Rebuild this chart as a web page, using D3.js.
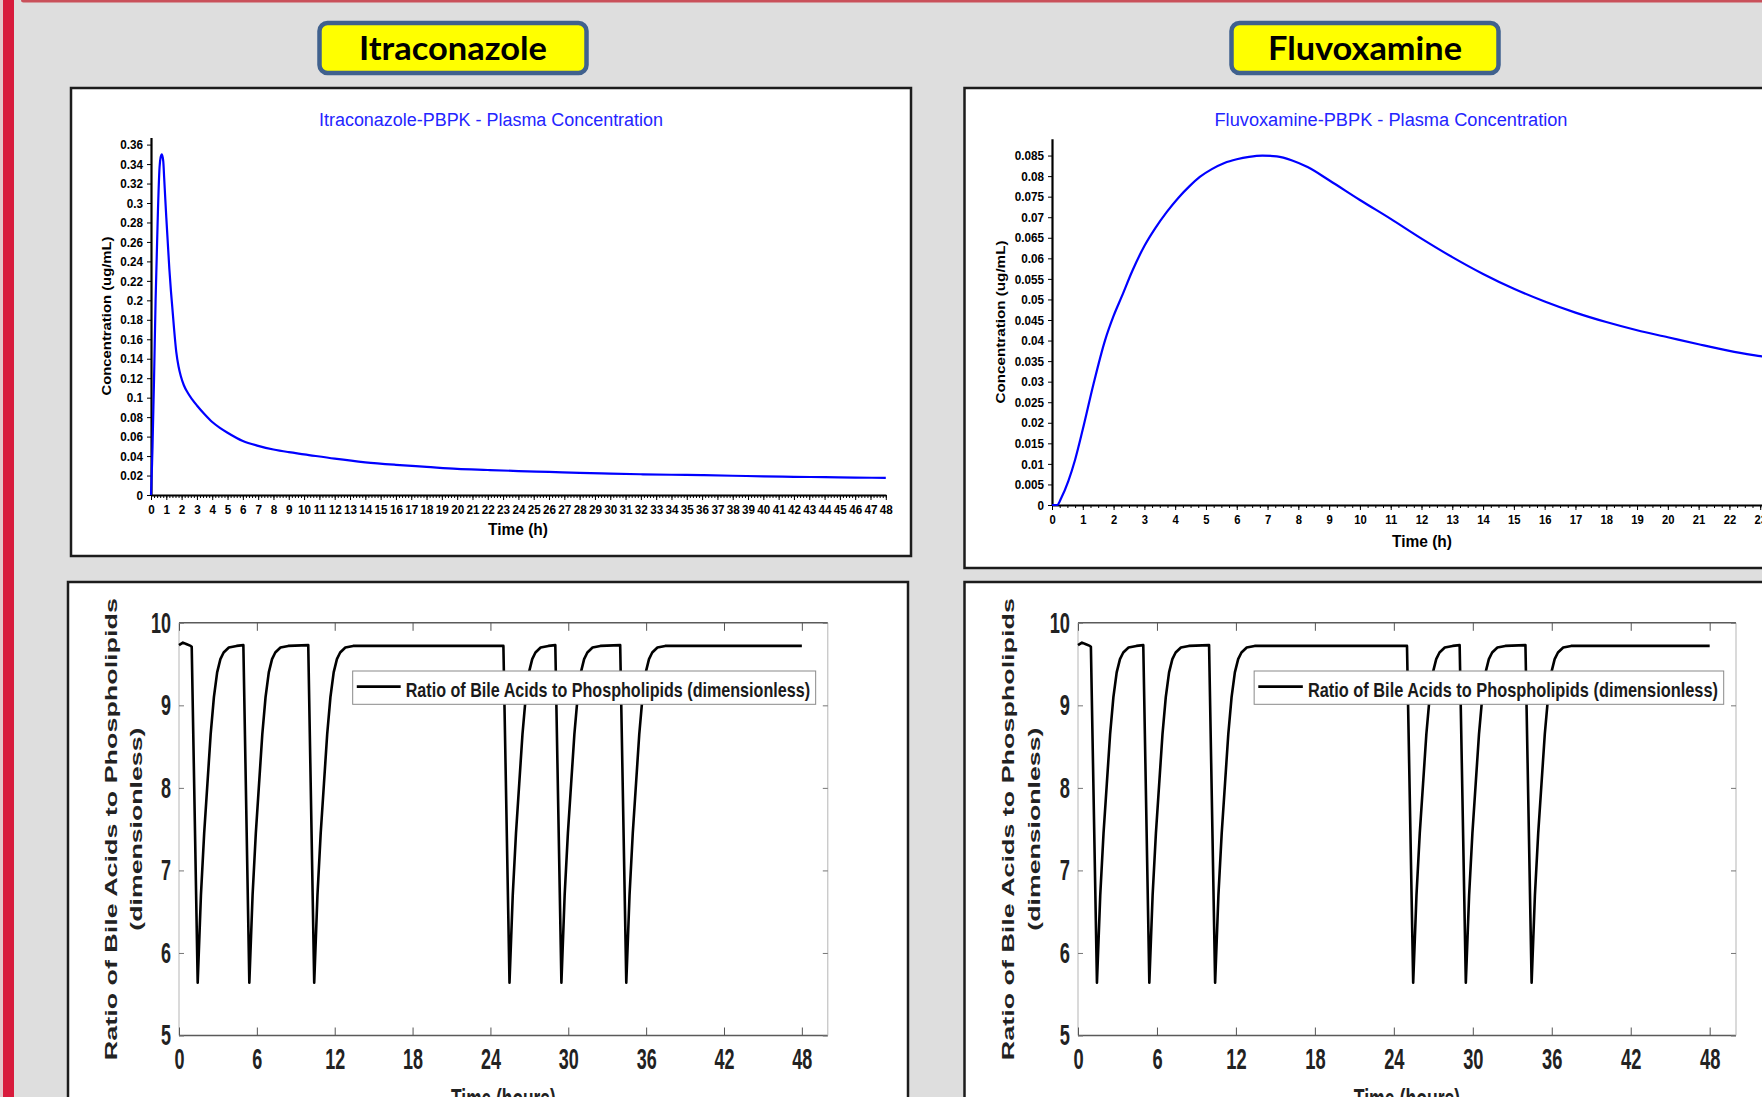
<!DOCTYPE html>
<html><head><meta charset="utf-8">
<script src="https://cdn.jsdelivr.net/npm/d3@7"></script>
<style>html,body{margin:0;padding:0;background:#dedede;overflow:hidden}svg{display:block}</style>
</head><body>
<svg id="c" width="1762" height="1097"></svg>
<script>
// ---------------- DATA ----------------
const panelLabels = ["Itraconazole", "Fluvoxamine"];
const concTitles = ["Itraconazole-PBPK - Plasma Concentration", "Fluvoxamine-PBPK - Plasma Concentration"];
const concXLabel = "Time (h)";
const concYLabel = "Concentration (ug/mL)";

const itraTime = [0,0.07,0.1,0.2,0.3,0.37,0.45,0.56,0.63,0.71,0.8,0.86,0.93,1.0,1.09,1.2,1.3,1.39,1.5,1.65,1.8,1.95,2.14,2.4,2.7,3,3.5,4,4.5,5,6,7,8,9,10,12,14,16,18,20,22,24,26,28,30,32,34,36,38,40,42,44,46,48];
const itraConc = [0,0.033,0.05,0.12,0.2,0.242,0.29,0.337,0.347,0.35,0.343,0.326,0.305,0.285,0.261,0.232,0.21,0.193,0.172,0.147,0.132,0.122,0.113,0.105,0.098,0.092,0.083,0.075,0.069,0.064,0.0555,0.0505,0.0467,0.044,0.0418,0.0373,0.0336,0.031,0.0289,0.0268,0.0257,0.0246,0.0237,0.0228,0.022,0.0213,0.0208,0.0204,0.0198,0.0192,0.0187,0.0183,0.0179,0.0176];
const itraXTicks = [0,1,2,3,4,5,6,7,8,9,10,11,12,13,14,15,16,17,18,19,20,21,22,23,24,25,26,27,28,29,30,31,32,33,34,35,36,37,38,39,40,41,42,43,44,45,46,47,48];
const itraYTicks = [0,0.02,0.04,0.06,0.08,0.1,0.12,0.14,0.16,0.18,0.2,0.22,0.24,0.26,0.28,0.3,0.32,0.34,0.36];

const fluvTime = [0,0.17,0.3,0.53,0.75,1.0,1.35,1.72,2.0,2.27,2.6,3.0,3.35,3.73,4.1,4.46,4.8,5.19,5.6,6.0,6.4,6.83,7.3,7.8,8.3,9,10,11,12,13,14,15,16,17,18,19,20,21,22,23,24];
const fluvConc = [0,0,0.0017,0.0058,0.011,0.0184,0.0295,0.040,0.046,0.0508,0.0568,0.063,0.0673,0.0713,0.0747,0.0775,0.0798,0.0817,0.0832,0.0841,0.0847,0.085,0.0848,0.0838,0.0822,0.079,0.0742,0.0696,0.0648,0.0603,0.0562,0.0526,0.0495,0.0468,0.0445,0.0425,0.0408,0.0391,0.0375,0.0362,0.035];
const fluvXTicks = [0,1,2,3,4,5,6,7,8,9,10,11,12,13,14,15,16,17,18,19,20,21,22,23,24];
const fluvYTicks = [0,0.005,0.01,0.015,0.02,0.025,0.03,0.035,0.04,0.045,0.05,0.055,0.06,0.065,0.07,0.075,0.08,0.085];

const ratioLegend = "Ratio of Bile Acids to Phospholipids (dimensionless)";
const ratioYLabel1 = "Ratio of Bile Acids to Phospholipids";
const ratioYLabel2 = "(dimensionless)";
const ratioXLabel = "Time (hours)";
const ratioXTicks = [0,6,12,18,24,30,36,42,48];
const ratioYTicks = [5,6,7,8,9,10];
const ratioTime = [0,0.3,0.6,0.9,0.98,
  1.44,1.69,1.94,2.19,2.44,2.69,2.94,3.19,3.44,3.84,4.44,4.96,
  5.42,5.67,5.92,6.17,6.42,6.67,6.92,7.17,7.42,7.82,8.42,9.96,
  10.42,10.67,10.92,11.17,11.42,11.67,11.92,12.17,12.42,12.82,13.42,25.0,
  25.47,25.72,25.97,26.22,26.47,26.72,26.97,27.22,27.47,27.87,28.47,29.0,
  29.47,29.72,29.97,30.22,30.47,30.72,30.97,31.22,31.47,31.87,32.47,34.0,
  34.47,34.72,34.97,35.22,35.47,35.72,35.97,36.22,36.47,36.87,37.47,48];
const ratioValue = [9.73,9.76,9.74,9.72,9.71,
  5.64,6.7,7.45,8.05,8.65,9.1,9.4,9.56,9.64,9.70,9.72,9.73,
  5.64,6.7,7.45,8.05,8.65,9.1,9.4,9.56,9.64,9.70,9.72,9.73,
  5.64,6.7,7.45,8.05,8.65,9.1,9.4,9.56,9.64,9.70,9.72,9.72,
  5.64,6.7,7.45,8.05,8.65,9.1,9.4,9.56,9.64,9.70,9.72,9.73,
  5.64,6.7,7.45,8.05,8.65,9.1,9.4,9.56,9.64,9.70,9.72,9.73,
  5.64,6.7,7.45,8.05,8.65,9.1,9.4,9.56,9.64,9.70,9.72,9.72];

// ---------------- HELPERS ----------------
const FONT = "'Liberation Sans', Arial, sans-serif";
const svg = d3.select("#c");
const zip = (a, b) => a.map((v, i) => [v, b[i]]);
const fmt = d => String(+(+d).toFixed(4));

function squeeze(sel, sx) {
  sel.each(function () {
    const t = d3.select(this);
    const x = +(t.attr("x") || 0);
    t.attr("x", x / sx).attr("transform", `scale(${sx},1)`);
  });
}
function styleAxis(g, size, weight) {
  g.attr("font-family", FONT).attr("font-size", size).attr("font-weight", weight);
  g.selectAll("text").attr("fill", "#000");
}

// ---------------- BACKGROUND ----------------
svg.append("rect").attr("width", 1762).attr("height", 1097).attr("fill", "#dedede");
svg.append("rect").attr("x", 0).attr("y", 0).attr("width", 3).attr("height", 1097).attr("fill", "#e4c6ca");
svg.append("rect").attr("x", 3).attr("y", 0).attr("width", 11).attr("height", 1097).attr("fill", "#d81b3c");
svg.append("rect").attr("x", 21).attr("y", -3).attr("width", 1760).attr("height", 5.5).attr("rx", 2.5).attr("fill", "#c9505a");

// panel labels
const labelBoxes = [{cx: 453, w: 267}, {cx: 1365, w: 267}];
const labelTextW = [188, 194];
panelLabels.forEach((lab, i) => {
  const b = labelBoxes[i];
  svg.append("rect").attr("x", b.cx - b.w / 2).attr("y", 23).attr("width", b.w).attr("height", 50)
    .attr("rx", 8).attr("fill", "#ffff00").attr("stroke", "#40618e").attr("stroke-width", 4.5);
  svg.append("text").attr("x", b.cx).attr("y", 60).attr("text-anchor", "middle")
    .attr("font-family", "Lato, 'Open Sans', sans-serif").attr("font-weight", 700).attr("font-size", 33)
    .attr("textLength", labelTextW[i]).attr("lengthAdjust", "spacingAndGlyphs")
    .attr("fill", "#000").text(lab);
});

// ---------------- CONCENTRATION PANELS ----------------
function concPanel(c) {
  const g = svg.append("g");
  g.append("rect").attr("x", c.frame[0]).attr("y", c.frame[1]).attr("width", c.frame[2]).attr("height", c.frame[3])
    .attr("fill", "#fff").attr("stroke", "#1c1c1c").attr("stroke-width", 2.5);
  const x = d3.scaleLinear().domain(c.xDomain).range(c.xRange);
  const y = d3.scaleLinear().domain(c.yDomain).range(c.yRange);

  g.append("text").attr("x", c.titleX).attr("y", 126).attr("text-anchor", "middle")
    .attr("font-family", FONT).attr("font-size", 18).attr("fill", "#2424ff")
    .attr("textLength", c.titleW).attr("lengthAdjust", "spacingAndGlyphs").text(c.title);

  // minor x ticks
  const gxm = g.append("g").attr("transform", `translate(0,${y(0)})`)
    .call(d3.axisBottom(x).tickValues(d3.range(c.xDomain[0], c.xDomain[1] + 1e-9, c.minorStep)).tickSize(3).tickFormat(""));
  gxm.select(".domain").remove();
  gxm.selectAll("line").attr("stroke", "#000").attr("stroke-width", 1);
  // major x ticks + labels
  const gx = g.append("g").attr("transform", `translate(0,${y(0)})`)
    .call(d3.axisBottom(x).tickValues(c.xTicks).tickSizeInner(5).tickSizeOuter(0).tickPadding(5).tickFormat(fmt));
  styleAxis(gx, c.xTickSize, 700);
  gx.select(".domain").attr("stroke", "#000").attr("stroke-width", 2.2);
  gx.selectAll("line").attr("stroke", "#000");
  squeeze(gx.selectAll("text"), c.xTickSx);

  const gy = g.append("g").attr("transform", `translate(${x(0)},0)`)
    .call(d3.axisLeft(y).tickValues(c.yTicks).tickSizeInner(4).tickSizeOuter(0).tickPadding(4).tickFormat(fmt));
  styleAxis(gy, 13, 700);
  gy.select(".domain").attr("stroke", "#000").attr("stroke-width", 2.2);
  gy.selectAll("line").attr("stroke", "#000");
  squeeze(gy.selectAll("text"), 0.9);

  g.append("path").datum(zip(c.time, c.conc))
    .attr("d", d3.line().curve(d3.curveMonotoneX).x(d => x(d[0])).y(d => y(d[1])))
    .attr("fill", "none").attr("stroke", "#0000ff").attr("stroke-width", 2.2).attr("stroke-linejoin", "round");

  g.append("text").attr("x", c.xLabelX).attr("y", c.xLabelY).attr("text-anchor", "middle")
    .attr("font-family", FONT).attr("font-weight", 700).attr("font-size", 16)
    .attr("textLength", 60).attr("lengthAdjust", "spacingAndGlyphs").attr("fill", "#000").text(concXLabel);
  g.append("text").attr("transform", `translate(${c.yLabelX},${c.yLabelY}) rotate(-90)`)
    .attr("text-anchor", "middle").attr("dominant-baseline", "central")
    .attr("font-family", FONT).attr("font-weight", 700).attr("font-size", 13)
    .attr("textLength", c.yLabelW).attr("lengthAdjust", "spacingAndGlyphs").attr("fill", "#000").text(concYLabel);
}

concPanel({
  frame: [71, 88, 840, 468], title: concTitles[0], titleX: 491, titleW: 344,
  xDomain: [0, 48], xRange: [151, 885.8], yDomain: [0, 0.3672], yRange: [495, 137.6],
  xTicks: itraXTicks, yTicks: itraYTicks, minorStep: 0.2, xTickSize: 13, xTickSx: 0.9,
  time: itraTime, conc: itraConc, xLabelX: 518, xLabelY: 535, yLabelX: 106, yLabelY: 316, yLabelW: 159
});
concPanel({
  frame: [964.5, 88, 900, 480], title: concTitles[1], titleX: 1391, titleW: 353,
  xDomain: [0, 24], xRange: [1052, 1791], yDomain: [0, 0.0891], yRange: [505, 138.7],
  xTicks: fluvXTicks, yTicks: fluvYTicks, minorStep: 0.25, xTickSize: 12.5, xTickSx: 0.9,
  time: fluvTime, conc: fluvConc, xLabelX: 1422, xLabelY: 547, yLabelX: 1000, yLabelY: 322, yLabelW: 163
});

// ---------------- RATIO PANELS ----------------
function ratioPanel(c) {
  const g = svg.append("g");
  g.append("rect").attr("x", c.frame[0]).attr("y", c.frame[1]).attr("width", c.frame[2]).attr("height", c.frame[3])
    .attr("fill", "#fff").attr("stroke", "#1c1c1c").attr("stroke-width", 2.5);
  const x = d3.scaleLinear().domain([0, 50]).range(c.xRange);
  const y = d3.scaleLinear().domain([5, 10]).range([1035.5, 622.8]);
  const sx = c.sx;

  // box
  [[x(0), y(10), x(50), y(10)], [x(0), y(5), x(50), y(5)]].forEach(l =>
    g.append("line").attr("x1", l[0]).attr("y1", l[1]).attr("x2", l[2]).attr("y2", l[3])
      .attr("stroke", "#5a5a5a").attr("stroke-width", 1.6));
  [[x(0), y(10), x(0), y(5)], [x(50), y(10), x(50), y(5)]].forEach(l =>
    g.append("line").attr("x1", l[0]).attr("y1", l[1]).attr("x2", l[2]).attr("y2", l[3])
      .attr("stroke", "#b5b5b5").attr("stroke-width", 1));

  const gb = g.append("g").attr("transform", `translate(0,${y(5)})`)
    .call(d3.axisBottom(x).tickValues(ratioXTicks).tickSizeInner(-8).tickSizeOuter(0).tickPadding(13).tickFormat(fmt));
  gb.select(".domain").remove();
  styleAxis(gb, 29, 700);
  gb.selectAll("line").attr("stroke", "#555").attr("stroke-width", 1);
  gb.selectAll("text").attr("fill", "#222");
  squeeze(gb.selectAll("text"), sx);

  const gt = g.append("g").attr("transform", `translate(0,${y(10)})`)
    .call(d3.axisTop(x).tickValues(ratioXTicks).tickSizeInner(-8).tickSizeOuter(0).tickFormat(""));
  gt.select(".domain").remove();
  gt.selectAll("line").attr("stroke", "#555").attr("stroke-width", 1);

  const gl = g.append("g").attr("transform", `translate(${x(0)},0)`)
    .call(d3.axisLeft(y).tickValues(ratioYTicks).tickSizeInner(-5).tickSizeOuter(0).tickPadding(8).tickFormat(fmt));
  gl.select(".domain").remove();
  styleAxis(gl, 29, 700);
  gl.selectAll("line").attr("stroke", "#777").attr("stroke-width", 1);
  gl.selectAll("text").attr("fill", "#222");
  squeeze(gl.selectAll("text"), sx);

  const gr = g.append("g").attr("transform", `translate(${x(50)},0)`)
    .call(d3.axisRight(y).tickValues(ratioYTicks).tickSizeInner(-5).tickSizeOuter(0).tickFormat(""));
  gr.select(".domain").remove();
  gr.selectAll("line").attr("stroke", "#777").attr("stroke-width", 1);

  // curve
  g.append("path").datum(zip(ratioTime, ratioValue))
    .attr("d", d3.line().x(d => x(d[0])).y(d => y(d[1])))
    .attr("fill", "none").attr("stroke", "#000").attr("stroke-width", 2.6).attr("stroke-linejoin", "round");

  // legend
  const pw = x(50) - x(0);
  const lx0 = x(0) + 0.2677 * pw, lx1 = x(0) + 0.9813 * pw;
  g.append("rect").attr("x", lx0).attr("y", 671).attr("width", lx1 - lx0).attr("height", 33.3)
    .attr("fill", "#fff").attr("stroke", "#8a8a8a").attr("stroke-width", 1);
  g.append("line").attr("x1", x(0) + 0.274 * pw).attr("x2", x(0) + 0.3417 * pw).attr("y1", 686.7).attr("y2", 686.7)
    .attr("stroke", "#000").attr("stroke-width", 2.8);
  const tx0 = x(0) + 0.3494 * pw, tx1 = x(0) + 0.9726 * pw;
  g.append("text").attr("x", tx0).attr("y", 696.5)
    .attr("font-family", FONT).attr("font-weight", 700).attr("font-size", 21).attr("fill", "#1a1a1a")
    .attr("textLength", tx1 - tx0).attr("lengthAdjust", "spacingAndGlyphs").text(ratioLegend);

  // axis titles
  const cy = (y(5) + y(10)) / 2;
  [[c.yl1, ratioYLabel1, 462], [c.yl2, ratioYLabel2, 203]].forEach(d => {
    g.append("text").attr("transform", `translate(${d[0]},${cy}) scale(${sx},1) rotate(-90)`)
      .attr("text-anchor", "middle").attr("dominant-baseline", "central")
      .attr("font-family", FONT).attr("font-weight", 700).attr("font-size", 27).attr("fill", "#222")
      .attr("textLength", d[2]).attr("lengthAdjust", "spacingAndGlyphs").text(d[1]);
  });
  g.append("text").attr("transform", `translate(${(x(0) + x(50)) / 2},1108) scale(${sx},1)`)
    .attr("text-anchor", "middle").attr("font-family", FONT).attr("font-weight", 700).attr("font-size", 28)
    .attr("fill", "#222").text(ratioXLabel);
}

ratioPanel({frame: [68, 582, 840, 560], xRange: [179, 827.8], sx: 0.62, yl1: 111, yl2: 136.5});
ratioPanel({frame: [964.5, 582, 900, 560], xRange: [1078, 1736], sx: 0.63, yl1: 1008, yl2: 1034.5});
</script>
</body></html>
